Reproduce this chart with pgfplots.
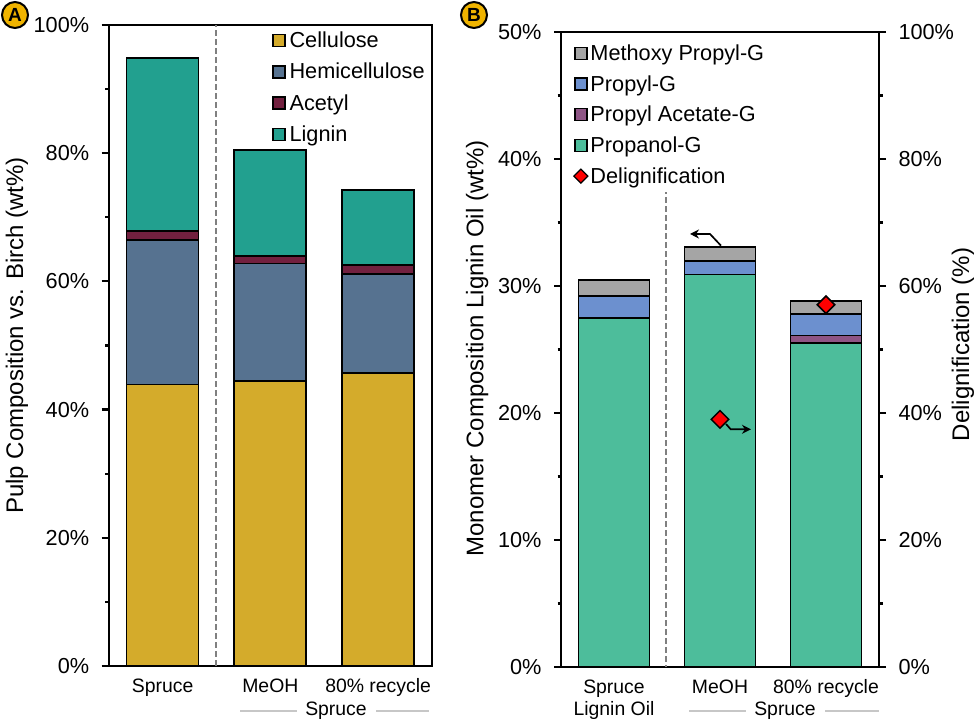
\documentclass[border=0pt]{standalone}
\usepackage{fontspec}
\setmainfont{Liberation Sans}
\usepackage{pgfplots}
\pgfplotsset{compat=1.18}
\usetikzlibrary{arrows.meta}

\definecolor{cellulose}{HTML}{D4AB2B}
\definecolor{hemi}{HTML}{567290}
\definecolor{acetyl}{HTML}{72203F}
\definecolor{lignin}{HTML}{22A08F}
\definecolor{propanol}{HTML}{4DBD9B}
\definecolor{propacet}{HTML}{8E5585}
\definecolor{propyl}{HTML}{6C90CF}
\definecolor{methoxy}{HTML}{A5A5A5}
\definecolor{badge}{HTML}{F0B400}

\newcommand{\tickfont}{\fontsize{21.7}{24}\selectfont}
\newcommand{\labelfont}{\fontsize{24}{26}\selectfont}
\newcommand{\catfont}{\fontsize{19.4}{22}\selectfont}

\pgfplotsset{
  panel/.style={
    scale only axis,
    anchor=south west,
    xmin=0.5, xmax=3.5,
    ymin=0,
    axis line style={line width=2.2pt},
    ticklabel style={font=\tickfont},
    label style={font=\labelfont},
    /pgf/number format/assume math mode=true,
    yticklabel={\pgfmathprintnumber{\tick}\%},
    tick align=outside,
    major tick length=7pt,
    minor tick length=3.5pt,
    every tick/.style={black, line width=2.2pt},
    minor tick num=1,
  },
  swatch/.style={
    legend image code/.code={
      \draw[##1, draw=black, line width=1.4pt] (0pt,-6pt) rectangle (12pt,6pt);
    },
  },
  bars/.style={fill=#1, draw=black, line width=1.8pt, swatch},
}

\begin{document}
\begin{tikzpicture}
\useasboundingbox (0pt,0pt) rectangle (975pt,725pt);

% panel A
\begin{axis}[
  panel, swatch,
  at={(108.7pt,59pt)},
  width=323.3pt, height=641pt,
  ymax=100,
  ybar stacked, bar width=72pt,
  xtick={1,2,3},
  xticklabels={Spruce, MeOH, 80\% recycle},
  x tick label style={font=\catfont, yshift=-2pt},
  x tick style={draw=none},
  ytick={0,20,40,60,80,100},
  ytick pos=left,
  y tick label style={xshift=-9pt},
  ylabel={Pulp Composition vs. Birch (wt\%)},
  ylabel style={at={(axis description cs:-0.2836,0.5156)}, anchor=center},
  legend cell align=left,
  legend style={at={(0.505,0.9925)}, anchor=north west, draw=none, fill=none,
    inner sep=0pt, font=\tickfont, row sep=10pt, column sep=2pt},
]
\addplot[bars=cellulose] coordinates {(1,43.9) (2,44.4) (3,45.7)};
\addlegendentry{Cellulose}
\addplot[bars=hemi] coordinates {(1,22.5) (2,18.4) (3,15.5)};
\addlegendentry{Hemicellulose}
\addplot[bars=acetyl] coordinates {(1,1.4) (2,1.2) (3,1.3)};
\addlegendentry{Acetyl}
\addplot[bars=lignin] coordinates {(1,27.1) (2,16.5) (3,11.7)};
\addlegendentry{Lignin}
\draw[gray, dash pattern=on 6pt off 3pt, line width=2pt] (axis cs:1.5,0) -- (axis cs:1.5,100);
\end{axis}

% panel B, left scale
\begin{axis}[
  panel,
  at={(561pt,58pt)},
  width=318pt, height=635pt,
  ymax=50,
  ybar stacked, bar width=71pt,
  xtick={1,2,3},
  xticklabels={Spruce\\Lignin Oil, MeOH, 80\% recycle},
  x tick label style={font=\catfont, yshift=-2pt, align=center},
  x tick style={draw=none},
  ytick={0,10,20,30,40,50},
  ytick pos=left,
  y tick label style={xshift=-9pt},
  ylabel={Monomer Composition Lignin Oil (wt\%)},
  ylabel style={at={(axis description cs:-0.264,0.5016)}, anchor=center},
]
\addplot[bars=propanol] coordinates {(1,27.45) (2,30.9) (3,25.5)};
\addplot[bars=propacet] coordinates {(1,0) (2,0) (3,0.6)};
\addplot[bars=propyl] coordinates {(1,1.75) (2,1.05) (3,1.7)};
\addplot[bars=methoxy] coordinates {(1,1.3) (2,1.15) (3,1.0)};
\draw[gray, dash pattern=on 6pt off 3pt, line width=2pt] (axis cs:1.49,-0.3) -- (axis cs:1.49,37.4);
\end{axis}

% panel B, right scale
\begin{axis}[
  panel, swatch,
  at={(561pt,58pt)},
  width=318pt, height=635pt,
  ymax=100,
  axis x line=none,
  axis y line*=right,
  ytick={0,20,40,60,80,100},
  y tick label style={xshift=9pt},
  ylabel={Delignification (\%)},
  ylabel style={at={(axis description cs:1.264,0.508)}, anchor=center},
  legend cell align=left,
  legend style={at={(0.038,0.9835)}, anchor=north west, draw=none, fill=none,
    inner sep=0pt, font=\tickfont, row sep=9.5pt},
]
\addlegendimage{fill=methoxy}
\addlegendentry{Methoxy Propyl-G}
\addlegendimage{fill=propyl}
\addlegendentry{Propyl-G}
\addlegendimage{fill=propacet}
\addlegendentry{Propyl Acetate-G}
\addlegendimage{fill=propanol}
\addlegendentry{Propanol-G}
\addlegendimage{legend image code/.code={
  \draw[fill=red, draw=black, line width=1.2pt]
    (6pt,7pt) -- (13pt,0pt) -- (6pt,-7pt) -- (-1pt,0pt) -- cycle;}}
\addlegendentry{Delignification}
\addplot[only marks, forget plot, mark=square*, mark size=6.2pt,
  mark options={rotate=45, fill=red, draw=black, line width=1.5pt}]
  coordinates {(2,39.0) (3,57.05)};
\end{axis}

% arrows pointing to the scales
\draw[-{Stealth[length=9pt,width=9pt]}, line width=1.7pt]
  (721pt,479.3pt) -- (710pt,491pt) -- (690pt,491pt);
\draw[-{Stealth[length=9pt,width=9pt]}, line width=1.7pt]
  (726pt,301pt) -- (730.7pt,295.7pt) -- (751pt,295.7pt);

% group labels under the bars
\node[font=\catfont] at (336pt,14.3pt) {Spruce};
\draw[black!22, line width=1.7pt] (240pt,14.3pt) -- (297pt,14.3pt);
\draw[black!22, line width=1.7pt] (376pt,14.3pt) -- (429pt,14.3pt);
\node[font=\catfont] at (785pt,14.3pt) {Spruce};
\draw[black!22, line width=1.7pt] (689pt,14.3pt) -- (746pt,14.3pt);
\draw[black!22, line width=1.7pt] (825pt,14.3pt) -- (879pt,14.3pt);

% panel badges
\node[circle, draw=black, fill=badge, line width=2pt, minimum size=26pt, inner sep=0pt,
  font=\fontsize{19}{19}\selectfont\bfseries] at (15pt,710pt) {A};
\node[circle, draw=black, fill=badge, line width=2pt, minimum size=26pt, inner sep=0pt,
  font=\fontsize{19}{19}\selectfont\bfseries] at (474pt,710pt) {B};
\end{tikzpicture}
\end{document}
